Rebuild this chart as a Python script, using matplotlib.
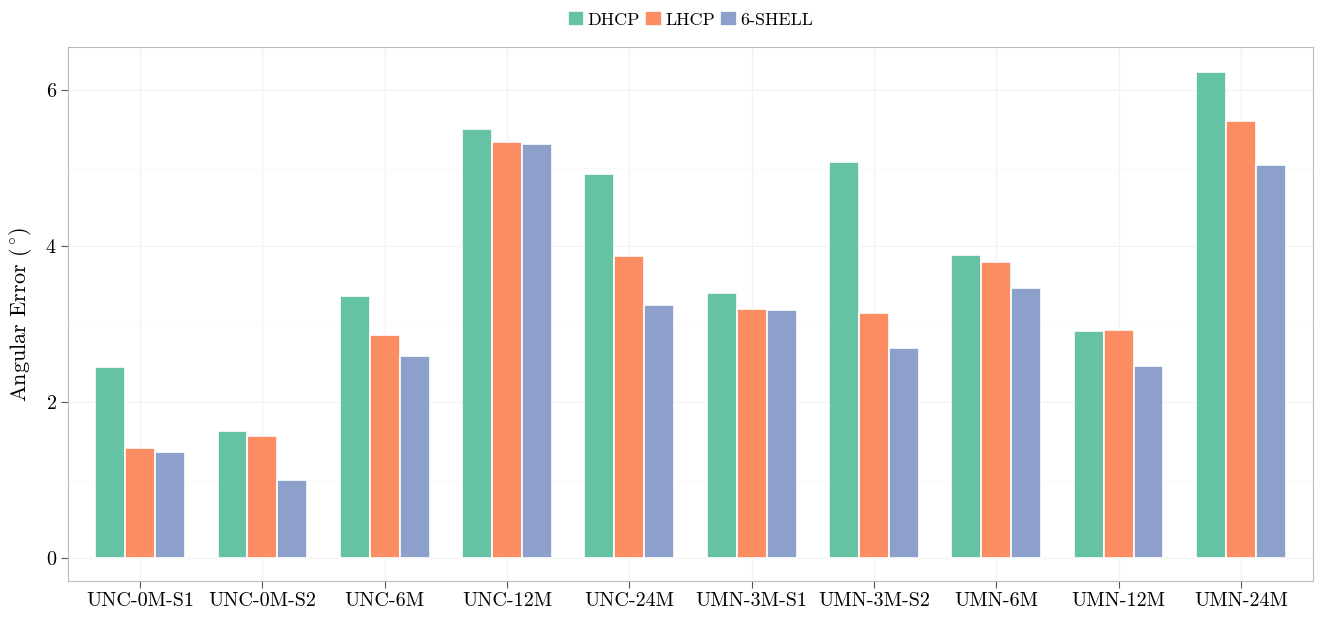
import numpy as np
import matplotlib.pyplot as plt
from matplotlib.ticker import MultipleLocator

plt.rcParams['font.family'] = ['cmr10', 'DejaVu Serif']
plt.rcParams['mathtext.fontset'] = 'cm'
plt.rcParams['axes.formatter.use_mathtext'] = True

sites = ['UNC-0M-S1', 'UNC-0M-S2', 'UNC-6M', 'UNC-12M', 'UNC-24M',
         'UMN-3M-S1', 'UMN-3M-S2', 'UMN-6M', 'UMN-12M', 'UMN-24M']
dhcp = [2.45, 1.62, 3.35, 5.50, 4.92, 3.40, 5.08, 3.88, 2.91, 6.23]
lhcp = [1.41, 1.56, 2.85, 5.33, 3.87, 3.19, 3.14, 3.79, 2.92, 5.60]
shell6 = [1.36, 0.99, 2.58, 5.31, 3.24, 3.18, 2.69, 3.46, 2.46, 5.04]

series = [('DHCP', dhcp, '#66c2a5'), ('LHCP', lhcp, '#fc8d62'), ('6-SHELL', shell6, '#8da0cb')]

fig = plt.figure(figsize=(13.25, 6.18), dpi=100)
ax = fig.add_axes([68/1325, 37/618, 1245/1325, 534/618])

x = np.arange(len(sites))
w = 0.245
for i, (name, vals, col) in enumerate(series):
    ax.bar(x + (i - 1) * w, vals, w, color=col, edgecolor='white', linewidth=1.2, label=name, zorder=3)

ax.set_xlim(-0.59, 9.59)
ax.set_ylim(-0.3, 6.55)
ax.set_xticks(x)
ax.set_xticklabels(sites)
ax.yaxis.set_major_locator(MultipleLocator(2))
ax.yaxis.set_minor_locator(MultipleLocator(1))
ax.grid(which='major', color='#f2f2f2', linewidth=0.9, zorder=0)
ax.grid(which='minor', axis='y', color='#f8f8f8', linewidth=0.6, zorder=0)
ax.tick_params(which='minor', length=0)
ax.tick_params(which='major', length=5, color='#555555', labelsize=14.5, pad=3)
for s in ax.spines.values():
    s.set_color('#bbbbbb')
ax.set_ylabel(r'Angular Error ($^\circ\!$)', fontsize=16, labelpad=8)

ax.legend(loc='lower center', bbox_to_anchor=(0.5, 1.005), ncol=3, frameon=False,
          fontsize=13, handlelength=0.9, handleheight=0.9, handletextpad=0.2, columnspacing=0.3)

fig.savefig('out.png', dpi=100)
